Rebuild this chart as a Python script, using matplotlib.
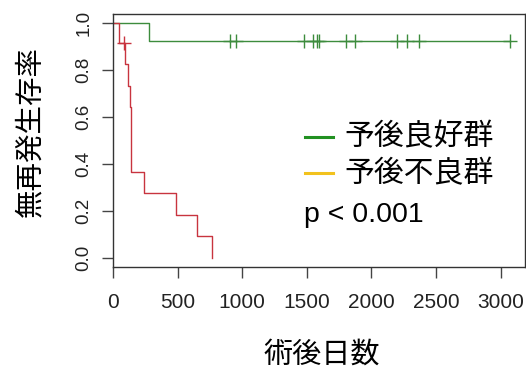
import numpy as np
import matplotlib
matplotlib.use('Agg')
import matplotlib.pyplot as plt
from matplotlib.lines import Line2D

plt.rcParams['font.family'] = ['Liberation Sans', 'Noto Sans CJK JP', 'DejaVu Sans']

# 読み取ったデータ（日数）
good_event_days = [281]
good_censor_days = [906, 952, 1478, 1550, 1577, 1592, 1801, 1875, 2196, 2278, 2371, 3073]
poor_event_days = [46, 95, 113, 128, 137, 142, 142, 242, 488, 648, 769]
poor_censor_days = [88]

x_ticks = [0, 500, 1000, 1500, 2000, 2500, 3000]
y_ticks = [0.0, 0.2, 0.4, 0.6, 0.8, 1.0]
legend_labels = ['予後良好群', '予後不良群']
p_text = 'p < 0.001'
x_label = '術後日数'
y_label = '無再発生存率'

good_color = '#3d8c3d'
poor_color = '#c8343f'
legend_colors = ['#229122', '#f2c21d']


def kaplan_meier(events, censors):
    # 生存曲線（階段）と打ち切り点を返す
    times = sorted(set(events) | set(censors))
    n = len(events) + len(censors)
    s = 1.0
    xs, ys = [0], [1.0]
    cens_x, cens_y = [], []
    for t in times:
        d = events.count(t)
        c = censors.count(t)
        if d > 0:
            xs.append(t); ys.append(s)
            s = s * (n - d) / n
            xs.append(t); ys.append(s)
        if c > 0:
            cens_x.append(t); cens_y.append(s)
        n -= d + c
    xs.append(times[-1]); ys.append(s)
    return xs, ys, cens_x, cens_y


fig = plt.figure(figsize=(5.26, 3.69), dpi=100)
W, H = 526, 369
ax = fig.add_axes([113 / W, 1 - 267 / H, (525 - 113) / W, (267 - 14) / H])

for ev, ce, col in [(good_event_days, good_censor_days, good_color),
                    (poor_event_days, poor_censor_days, poor_color)]:
    xs, ys, cx, cy = kaplan_meier(ev, ce)
    ax.plot(xs, ys, color=col, lw=1.0)
    ax.plot(cx, cy, ls='none', marker='+', ms=9.5, mew=1.0, color=col)

ax.set_xlim(0, 3189)
ax.set_ylim(-0.04, 1.04)
ax.set_xticks(x_ticks)
ax.set_xticklabels([str(v) for v in x_ticks], fontsize=15, color='#222222')
ax.set_yticks(y_ticks)
ax.set_yticklabels([f'{v:.1f}' for v in y_ticks], fontsize=13.5, color='#222222',
                   rotation=90, va='center')
ax.tick_params(axis='x', length=8, width=1, color='#444444', pad=11)
ax.tick_params(axis='y', length=8, width=1, color='#444444', pad=7)
for sp in ax.spines.values():
    sp.set_color('#333333')
    sp.set_linewidth(1.0)

# 軸ラベル
fig.text(322 / W, 1 - 355 / H, x_label, fontsize=21, ha='center', va='center',
         family=['Noto Sans CJK JP'])
fig.text(30 / W, 1 - 132 / H, y_label, fontsize=20.5, ha='center', va='center',
         rotation=90, family=['Noto Sans CJK JP'])

# 凡例（重ね書き）
for i, (lab, col) in enumerate(zip(legend_labels, legend_colors)):
    yy = 1 - (137 + 36.5 * i) / H
    fig.add_artist(Line2D([305 / W, 333 / W], [yy, yy], color=col, lw=2.2))
    fig.text(344 / W, yy, lab, fontsize=21.5, ha='left', va='center',
             family=['Noto Sans CJK JP'])
fig.text(304 / W, 1 - 215 / H, p_text, fontsize=20.5, ha='left', va='center')

fig.savefig('out.png', dpi=100)
